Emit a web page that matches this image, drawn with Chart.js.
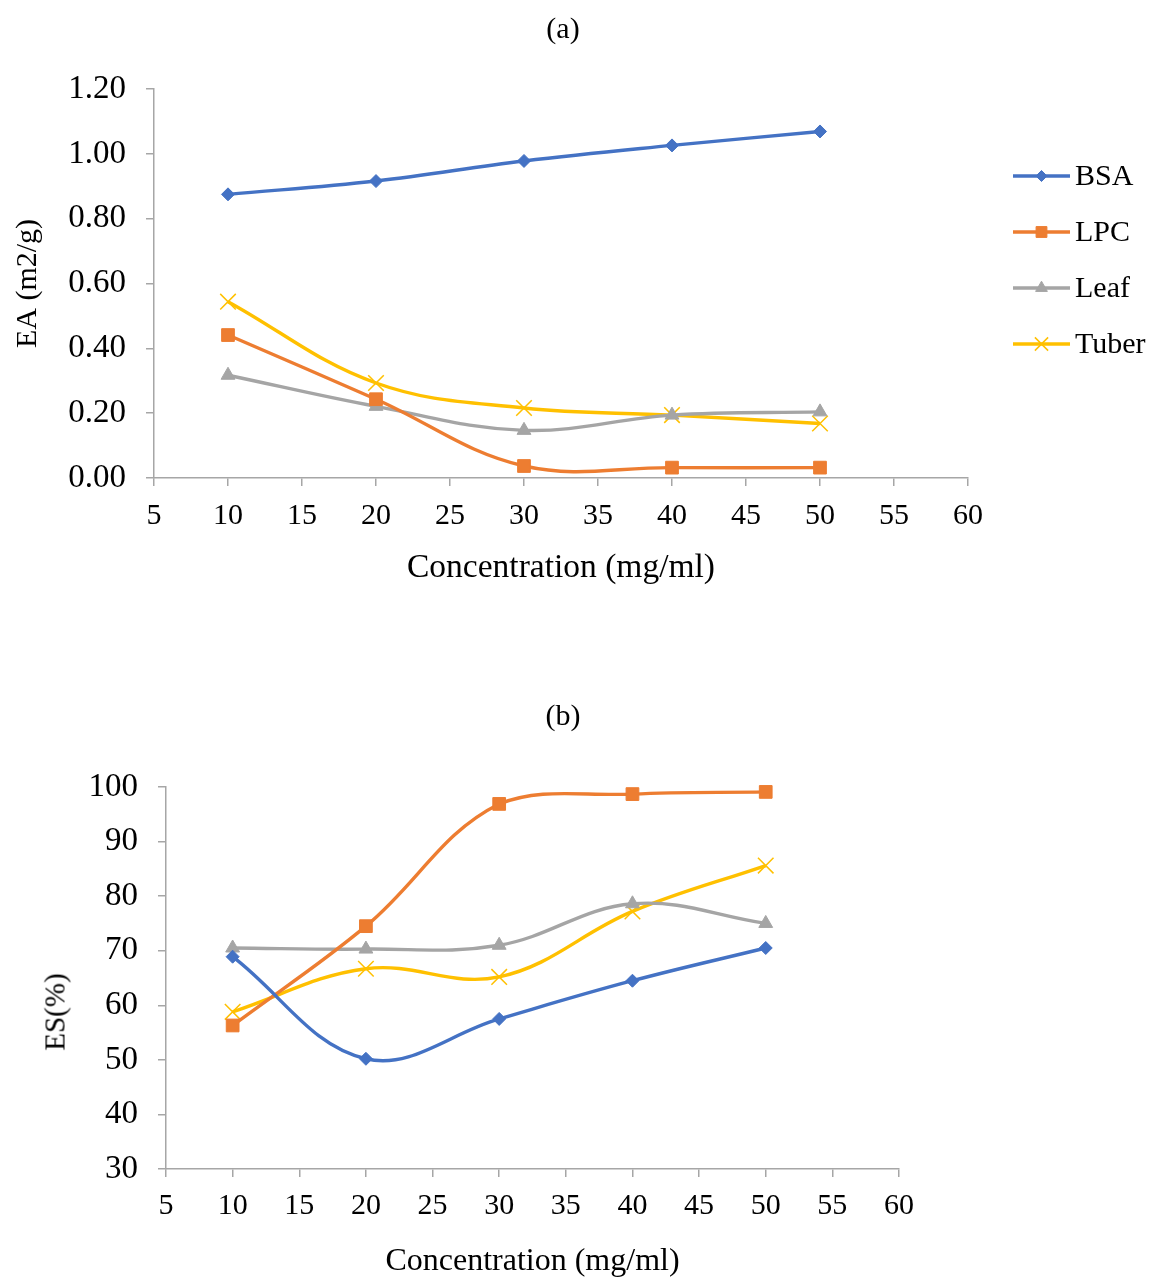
<!DOCTYPE html>
<html>
<head>
<meta charset="utf-8">
<script src="https://cdn.jsdelivr.net/npm/chart.js@4.4.1/dist/chart.umd.min.js"></script>
<style>
  html, body { margin: 0; padding: 0; background: #fff; }
  #page { position: relative; width: 1157px; height: 1279px; font-family: 'Liberation Serif', 'Times New Roman', serif; color: #000; }
  canvas { position: absolute; left: 0; display: block; }
  #chartEA { top: 0; }
  #chartES { top: 680px; }
  .panel { position: absolute; left: 0; width: 1126px; text-align: center; font-size: 30px; line-height: 36px; }
  #panelA { top: 10px; }
  #panelB { top: 697px; }
  #esTitle { position: absolute; left: 55px; top: 1012px; font-size: 29px; line-height: 1; white-space: nowrap;
             transform: translate(-50%, -50%) rotate(-90deg); }
</style>
</head>
<body>
<div id="page">
  <canvas id="chartEA" width="1157" height="610"></canvas>
  <canvas id="chartES" width="1157" height="599"></canvas>
  <div class="panel" id="panelA">(a)</div>
  <div class="panel" id="panelB">(b)</div>
  <div id="esTitle">ES(%)</div>
</div>
<script>
"use strict";

// concentrations (mg/ml)
const conc = [10, 20, 30, 40, 50];

// emulsifying activity, m2/g
const bsaEA = [0.875, 0.916, 0.978, 1.026, 1.069];
const lpcEA = [0.441, 0.243, 0.037, 0.032, 0.032];
const leafEA = [0.317, 0.221, 0.147, 0.194, 0.204];
const tuberEA = [0.544, 0.293, 0.216, 0.194, 0.168];

// emulsion stability, %
const bsaES = [68.9, 50.2, 57.5, 64.5, 70.5];
const lpcES = [56.3, 74.5, 96.9, 98.7, 99.1];
const leafES = [70.5, 70.3, 71.0, 78.6, 75.0];
const tuberES = [58.8, 66.7, 65.2, 77.2, 85.6];

const seriesNames = ["BSA", "LPC", "Leaf", "Tuber"];
const xTicks = [5, 10, 15, 20, 25, 30, 35, 40, 45, 50, 55, 60];
const eaTicks = [0, 0.2, 0.4, 0.6, 0.8, 1.0, 1.2];
const esTicks = [30, 40, 50, 60, 70, 80, 90, 100];

const SERIF = "'Liberation Serif', 'Times New Roman', serif";
Chart.defaults.font.family = SERIF;
Chart.defaults.color = "#000";

const AXIS_GREY = "#a6a6a6";

// line + marker look for each series
const looks = [
  { color: "#4472c4", pointStyle: "rectRot", radius: 6.5, pw: 1 },
  { color: "#ed7d31", pointStyle: "rect", radius: 9, pw: 1 },
  { color: "#a5a5a5", pointStyle: "triangle", radius: 8, pw: 1 },
  { color: "#ffc000", pointStyle: "crossRot", radius: 11, pw: 1.5 }
];

function makeDatasets(lists) {
  return lists.map((vals, i) => {
    const lk = looks[i];
    return {
      label: seriesNames[i],
      data: conc.map((c, k) => ({ x: c, y: vals[k] })),
      borderColor: lk.color,
      backgroundColor: lk.color,
      borderWidth: 3.4,
      tension: 0.38,
      pointStyle: lk.pointStyle,
      pointRadius: lk.radius,
      pointBackgroundColor: lk.color,
      pointBorderColor: lk.color,
      pointBorderWidth: lk.pw,
      clip: false
    };
  });
}

// legend drawn at the right: short line with marker, then the name
const sideLegend = {
  id: "sideLegend",
  afterDraw(chart, args, opts) {
    const ctx = chart.ctx;
    ctx.save();
    chart.data.datasets.forEach((ds, i) => {
      const x = opts.left;
      const y = opts.top + i * opts.gap;
      ctx.strokeStyle = ds.borderColor;
      ctx.lineWidth = ds.borderWidth;
      ctx.beginPath();
      ctx.moveTo(x, y);
      ctx.lineTo(x + opts.lineLength, y);
      ctx.stroke();

      ctx.fillStyle = ds.pointBackgroundColor;
      ctx.strokeStyle = ds.pointBorderColor;
      ctx.lineWidth = ds.pointBorderWidth;
      Chart.helpers.drawPoint(ctx, {
        pointStyle: ds.pointStyle,
        radius: ds.pointRadius * 0.85,
        rotation: 0,
        borderWidth: ds.pointBorderWidth
      }, x + opts.lineLength / 2, y);

      ctx.fillStyle = "#000";
      ctx.font = opts.fontSize + "px " + SERIF;
      ctx.textAlign = "left";
      ctx.textBaseline = "middle";
      ctx.fillText(ds.label, x + opts.lineLength + opts.textGap, y + 1);
    });
    ctx.restore();
  }
};

function makeChart(id, o) {
  return new Chart(document.getElementById(id), {
    type: "line",
    data: { datasets: makeDatasets(o.lists) },
    plugins: [sideLegend],
    options: {
      responsive: false,
      animation: false,
      layout: { padding: { left: 0, right: o.padRight, top: o.padTop, bottom: 0 } },
      plugins: {
        legend: { display: false },
        tooltip: { enabled: false },
        title: { display: false },
        sideLegend: o.legend
      },
      scales: {
        x: {
          type: "linear",
          min: 5,
          max: 60,
          afterBuildTicks: s => { s.ticks = xTicks.map(v => ({ value: v })); },
          afterFit: s => { s.height = o.xHeight; },
          grid: { drawOnChartArea: false, drawTicks: true, tickLength: 8, color: AXIS_GREY, lineWidth: 1.5 },
          border: { display: true, color: AXIS_GREY, width: 1.5 },
          ticks: { padding: o.xTickPad, font: { size: 30 }, color: "#000", maxRotation: 0 },
          title: {
            display: true,
            text: "Concentration (mg/ml)",
            color: "#000",
            font: { size: o.xTitleSize, lineHeight: 1 },
            padding: { top: 0, bottom: o.xTitlePad }
          }
        },
        y: {
          min: o.yMin,
          max: o.yMax,
          afterBuildTicks: s => { s.ticks = o.yTicks.map(v => ({ value: v })); },
          afterFit: s => { s.width = o.yWidth; },
          grid: { drawOnChartArea: false, drawTicks: true, tickLength: 8, color: AXIS_GREY, lineWidth: 1.5 },
          border: { display: true, color: AXIS_GREY, width: 1.5 },
          ticks: { padding: 20, font: { size: 33 }, color: "#000", callback: o.yFormat },
          title: {
            display: o.yTitle !== "",
            text: o.yTitle,
            color: "#000",
            font: { size: 30 },
            padding: { top: 10, bottom: 0 }
          }
        }
      }
    }
  });
}

// (a) emulsifying activity
makeChart("chartEA", {
  lists: [bsaEA, lpcEA, leafEA, tuberEA],
  padTop: 89,
  padRight: 189,
  xHeight: 132,
  xTickPad: 12,
  xTitleSize: 33.5,
  xTitlePad: 25,
  yWidth: 154,
  yMin: 0,
  yMax: 1.2,
  yTicks: eaTicks,
  yFormat: v => Number(v).toFixed(2),
  yTitle: "EA (m2/g)",
  legend: { left: 1013, top: 176, gap: 56, lineLength: 57, textGap: 5, fontSize: 30 }
});

// (b) emulsion stability; its y title sits lower, as a page label
makeChart("chartES", {
  lists: [bsaES, lpcES, leafES, tuberES],
  padTop: 107,
  padRight: 258,
  xHeight: 110,
  xTickPad: 11,
  xTitleSize: 32,
  xTitlePad: 1,
  yWidth: 166,
  yMin: 30,
  yMax: 100,
  yTicks: esTicks,
  yFormat: v => String(v),
  yTitle: "",
  legend: { left: 972, top: 952, gap: 50.5, lineLength: 54, textGap: 5, fontSize: 30 }
});
</script>
</body>
</html>
